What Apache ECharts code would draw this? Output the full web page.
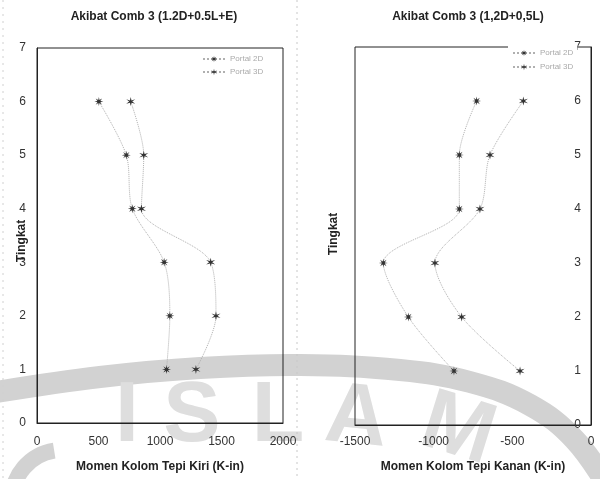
<!DOCTYPE html>
<html>
<head>
<meta charset="utf-8">
<script src="https://cdn.jsdelivr.net/npm/echarts@6/dist/echarts.min.js"></script>
<style>
  html, body { margin: 0; padding: 0; background: #fff; }
  #chart { width: 600px; height: 479px; }
</style>
</head>
<body>
<div id="chart"></div>
<script>
// Storey levels (Tingkat) and column end moments (K-in)
const levels = [1, 2, 3, 4, 5, 6];
const kiriA = [1053, 1080, 1034, 775, 726, 503];
const kiriB = [1292, 1455, 1412, 849, 868, 762];
const kananA = [-871, -1161, -1320, -837, -837, -727];
const kananB = [-451, -822, -992, -706, -642, -430];
const seriesNames = ['Portal 2D', 'Portal 3D'];
const titles = ['Akibat Comb 3 (1.2D+0.5L+E)', 'Akibat Comb 3 (1,2D+0,5L)'];
const xNames = ['Momen Kolom Tepi Kiri (K-in)', 'Momen Kolom Tepi Kanan (K-in)'];
const yName = 'Tingkat';

const FONT = '"Liberation Sans", Arial, sans-serif';
const MARK = '#d2d2d2';

// star-shaped marker outline
function starPath(points, inner) {
  const r = 5, c = 5;
  let d = '';
  for (let i = 0; i < points * 2; i++) {
    const a = Math.PI * i / points - Math.PI / 2;
    const rr = i % 2 === 0 ? r : r * inner;
    d += (i === 0 ? 'M' : 'L') + (c + rr * Math.cos(a)).toFixed(2) + ',' + (c + rr * Math.sin(a)).toFixed(2);
  }
  return 'path://' + d + 'Z';
}
const symA = starPath(8, 0.35);
const symB = starPath(6, 0.3);

const pairs = (xs) => xs.map((x, i) => [x, levels[i]]);

function mkSeries(name, xs, idx, sym) {
  return {
    name: name,
    type: 'line',
    xAxisIndex: idx,
    yAxisIndex: idx,
    data: pairs(xs),
    symbol: sym,
    symbolSize: 9,
    smooth: 0.3,
    itemStyle: { color: '#333' },
    lineStyle: { color: '#b0b0b0', width: 1, type: 'dotted' },
    z: 5
  };
}

const axisLabel = { fontSize: 12, color: '#333', fontFamily: FONT, formatter: (v) => String(v) };

const chart = echarts.init(document.getElementById('chart'), null, { renderer: 'canvas' });

function mark(ch, x, y, rot) {
  return {
    type: 'text', z: -1, silent: true, x: x, y: y, rotation: rot || 0,
    style: { text: ch, font: 'bold 86px ' + FONT, fill: '#dedede', align: 'center', verticalAlign: 'bottom' }
  };
}

const option = {
  backgroundColor: '#fff',
  animation: false,
  grid: [
    { left: 37, top: 48, width: 246, height: 375, show: true, borderColor: '#222', borderWidth: 1, backgroundColor: 'transparent' },
    { left: 355, top: 47, width: 236, height: 378, show: true, borderColor: '#222', borderWidth: 1, backgroundColor: 'transparent' }
  ],
  xAxis: [
    {
      gridIndex: 0, type: 'value', min: 0, max: 2000, interval: 500,
      axisLine: { show: true, lineStyle: { color: '#222' } },
      axisTick: { show: false }, splitLine: { show: false },
      axisLabel: Object.assign({ margin: 13 }, axisLabel),
      name: xNames[0], nameLocation: 'middle', nameGap: 38,
      nameTextStyle: { fontSize: 12, fontWeight: 'bold', color: '#222', fontFamily: FONT }
    },
    {
      gridIndex: 1, type: 'value', min: -1500, max: 0, interval: 500,
      axisLine: { show: true, lineStyle: { color: '#222' } },
      axisTick: { show: false }, splitLine: { show: false },
      axisLabel: Object.assign({ margin: 11 }, axisLabel),
      name: xNames[1], nameLocation: 'middle', nameGap: 36,
      nameTextStyle: { fontSize: 12, fontWeight: 'bold', color: '#222', fontFamily: FONT }
    }
  ],
  yAxis: [
    {
      gridIndex: 0, type: 'value', min: 0, max: 7, interval: 1,
      axisLine: { show: true, lineStyle: { color: '#222' } },
      axisTick: { show: false }, splitLine: { show: false },
      axisLabel: Object.assign({ margin: 11 }, axisLabel)
    },
    {
      gridIndex: 1, type: 'value', min: 0, max: 7, interval: 1, position: 'right',
      axisLine: { show: true, lineStyle: { color: '#222' } },
      axisTick: { show: false }, splitLine: { show: false },
      axisLabel: Object.assign({ margin: 10, inside: true }, axisLabel)
    }
  ],
  legend: [
    {
      data: seriesNames, orient: 'vertical', left: 200, top: 53, itemGap: 5,
      itemWidth: 22, itemHeight: 8, padding: 2,
      textStyle: { fontSize: 8, color: '#aaa', fontFamily: FONT }
    },
    {
      data: seriesNames, orient: 'vertical', left: 508, top: 45, itemGap: 6,
      itemWidth: 22, itemHeight: 8, padding: [4, 4, 4, 4], backgroundColor: '#fff',
      textStyle: { fontSize: 8, color: '#aaa', fontFamily: FONT }
    }
  ],
  graphic: [
    // background emblem
    {
      type: 'polyline', z: -1, silent: true,
      shape: { points: [[-10, 393], [100, 377], [200, 368], [300, 365], [400, 370], [470, 382], [530, 405], [575, 440], [610, 490]], smooth: 0.4 },
      style: { stroke: MARK, lineWidth: 22, fill: null }
    },
    {
      type: 'arc', z: -1, silent: true,
      shape: { cx: 62, cy: 500, r: 50, startAngle: Math.PI * 1.0, endAngle: Math.PI * 1.45 },
      style: { stroke: MARK, lineWidth: 16, fill: null }
    },
    mark('I', 127, 460),
    mark('S', 192, 460),
    mark('L', 278, 460),
    mark('A', 352, 462, -0.1),
    mark('M', 445, 472, -0.3),
    // faint page separators
    { type: 'line', z: -1, silent: true, shape: { x1: 297, y1: 0, x2: 297, y2: 479 }, style: { stroke: '#c8c8c8', lineWidth: 1, lineDash: [2, 4] } },
    { type: 'line', z: -1, silent: true, shape: { x1: 3, y1: 0, x2: 3, y2: 479 }, style: { stroke: '#d0d0d0', lineWidth: 1, lineDash: [2, 5] } },
    // chart titles
    { type: 'text', x: 154, y: 17, style: { text: titles[0], font: 'bold 12px ' + FONT, fill: '#222', align: 'center', verticalAlign: 'middle' } },
    { type: 'text', x: 468, y: 17, style: { text: titles[1], font: 'bold 12px ' + FONT, fill: '#222', align: 'center', verticalAlign: 'middle' } },
    // vertical axis titles
    { type: 'text', x: 22, y: 241, rotation: Math.PI / 2, style: { text: yName, font: 'bold 12px ' + FONT, fill: '#222', align: 'center', verticalAlign: 'middle' } },
    { type: 'text', x: 334, y: 234, rotation: Math.PI / 2, style: { text: yName, font: 'bold 12px ' + FONT, fill: '#222', align: 'center', verticalAlign: 'middle' } }
  ],
  series: [
    mkSeries(seriesNames[0], kiriA, 0, symA),
    mkSeries(seriesNames[1], kiriB, 0, symB),
    mkSeries(seriesNames[0], kananA, 1, symA),
    mkSeries(seriesNames[1], kananB, 1, symB)
  ]
};

chart.setOption(option);
</script>
</body>
</html>
